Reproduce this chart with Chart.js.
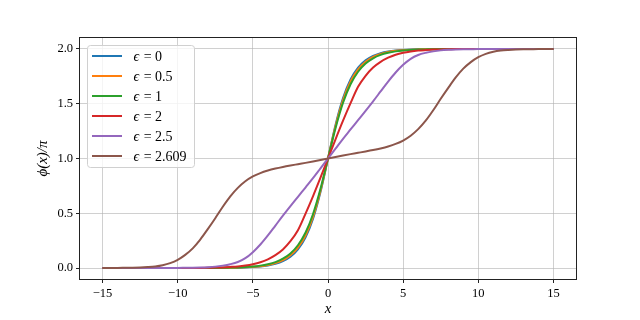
<!DOCTYPE html>
<html>
<head>
<meta charset="utf-8">
<title>Kink profiles</title>
<script src="https://cdn.jsdelivr.net/npm/chart.js@4/dist/chart.umd.min.js"></script>
<style>
  html, body { margin: 0; padding: 0; background: #fff; }
  #wrap { width: 640px; height: 320px; }
</style>
</head>
<body>
<div id="wrap"><canvas id="chart-kinks" width="640" height="320"></canvas></div>
<script>
/* ── Data ────────────────────────────────────────────────── */
const xValues = [
  -15, -14.5, -14, -13.5, -13, -12.5, -12, -11.5, -11, -10.5,
  -10, -9.5, -9, -8.5, -8, -7.5, -7, -6.5, -6, -5.5,
  -5, -4.5, -4, -3.5, -3, -2.5, -2, -1.5, -1, -0.5,
  0,
  0.5, 1, 1.5, 2, 2.5, 3, 3.5, 4, 4.5, 5,
  5.5, 6, 6.5, 7, 7.5, 8, 8.5, 9, 9.5, 10,
  10.5, 11, 11.5, 12, 12.5, 13, 13.5, 14, 14.5, 15
];

const epsLabels = ['ϵ = 0', 'ϵ = 0.5', 'ϵ = 1', 'ϵ = 2', 'ϵ = 2.5', 'ϵ = 2.609'];

const phiEps0 = [
  0, 0, 0, 0, 0, 0, 0, 0, 0, 0,
  0, 0, 0, 0, 0, 0.001, 0.001, 0.002, 0.003, 0.005,
  0.009, 0.014, 0.023, 0.038, 0.063, 0.104, 0.171, 0.279, 0.449, 0.694,
  1,
  1.306, 1.551, 1.721, 1.829, 1.896, 1.937, 1.962, 1.977, 1.986, 1.991,
  1.995, 1.997, 1.998, 1.999, 1.999, 2, 2, 2, 2, 2,
  2, 2, 2, 2, 2, 2, 2, 2, 2, 2
];

const phiEps05 = [
  0, 0, 0, 0, 0, 0, 0, 0, 0, 0,
  0, 0, 0, 0, 0.001, 0.001, 0.002, 0.002, 0.004, 0.007,
  0.011, 0.017, 0.028, 0.045, 0.072, 0.116, 0.186, 0.297, 0.467, 0.706,
  1,
  1.294, 1.533, 1.703, 1.814, 1.884, 1.928, 1.955, 1.972, 1.983, 1.989,
  1.993, 1.996, 1.998, 1.998, 1.999, 1.999, 2, 2, 2, 2,
  2, 2, 2, 2, 2, 2, 2, 2, 2, 2
];

const phiEps1 = [
  0, 0, 0, 0, 0, 0, 0, 0, 0, 0,
  0, 0, 0, 0.001, 0.001, 0.001, 0.002, 0.004, 0.006, 0.009,
  0.014, 0.022, 0.035, 0.054, 0.085, 0.133, 0.208, 0.322, 0.491, 0.723,
  1,
  1.277, 1.509, 1.678, 1.792, 1.867, 1.915, 1.946, 1.965, 1.978, 1.986,
  1.991, 1.994, 1.996, 1.998, 1.999, 1.999, 1.999, 2, 2, 2,
  2, 2, 2, 2, 2, 2, 2, 2, 2, 2
];

const phiEps2 = [
  0, 0, 0, 0, 0, 0, 0, 0, 0, 0,
  0, 0, 0.001, 0.001, 0.002, 0.004, 0.006, 0.010, 0.015, 0.023,
  0.035, 0.053, 0.080, 0.118, 0.170, 0.245, 0.345, 0.495, 0.655, 0.825,
  1,
  1.175, 1.345, 1.505, 1.655, 1.755, 1.830, 1.882, 1.920, 1.947, 1.965,
  1.977, 1.985, 1.990, 1.994, 1.996, 1.998, 1.999, 1.999, 2, 2,
  2, 2, 2, 2, 2, 2, 2, 2, 2, 2
];

const phiEps25 = [
  0, 0, 0, 0, 0, 0, 0, 0, 0, 0.001,
  0.001, 0.002, 0.003, 0.005, 0.008, 0.013, 0.022, 0.035, 0.055, 0.090,
  0.145, 0.215, 0.298, 0.388, 0.478, 0.565, 0.650, 0.735, 0.820, 0.910,
  1,
  1.090, 1.180, 1.265, 1.350, 1.435, 1.522, 1.612, 1.702, 1.785, 1.855,
  1.910, 1.945, 1.965, 1.978, 1.987, 1.992, 1.995, 1.997, 1.998, 1.999,
  1.999, 2, 2, 2, 2, 2, 2, 2, 2, 2
];

const phiEps2609 = [
  0, 0.001, 0.001, 0.002, 0.003, 0.005, 0.009, 0.015, 0.026, 0.045,
  0.075, 0.120, 0.180, 0.260, 0.355, 0.455, 0.560, 0.655, 0.732, 0.792,
  0.836, 0.867, 0.890, 0.908, 0.923, 0.936, 0.948, 0.960, 0.973, 0.987,
  1,
  1.013, 1.027, 1.040, 1.052, 1.064, 1.077, 1.092, 1.110, 1.133, 1.164,
  1.208, 1.268, 1.345, 1.440, 1.545, 1.645, 1.740, 1.820, 1.880, 1.925,
  1.955, 1.974, 1.985, 1.991, 1.995, 1.997, 1.998, 1.999, 1.999, 2
];

const xTicks = [-15, -10, -5, 0, 5, 10, 15];
const yTicks = [0, 0.5, 1, 1.5, 2];

/* ── Styling ─────────────────────────────────────────────── */
const seriesColors = ['#1f77b4', '#ff7f0e', '#2ca02c', '#d62728', '#9467bd', '#8c564b'];
const serif = "'Liberation Serif', 'DejaVu Serif', serif";
const allSeries = [phiEps0, phiEps05, phiEps1, phiEps2, phiEps25, phiEps2609];

function fmtTick(v, digits) {
  const s = Math.abs(v).toFixed(digits);
  return v < 0 ? '\u2212' + s : s;
}

/* ── Frame: matplotlib style box round the axes ──────────── */
const framePlugin = {
  id: 'frame',
  afterDraw(chart) {
    const { ctx, chartArea: a } = chart;
    ctx.save();
    ctx.strokeStyle = '#222';
    ctx.lineWidth = 1;
    ctx.strokeRect(Math.round(a.left) - 0.5, Math.round(a.top) - 0.5,
      Math.round(a.right - a.left) + 1, Math.round(a.bottom - a.top) + 1);
    ctx.restore();
  }
};

/* ── Legend inside the plot, upper left ──────────────────── */
const innerLegend = {
  id: 'innerLegend',
  afterDatasetsDraw(chart) {
    const { ctx, chartArea: a } = chart;
    const sets = chart.data.datasets;
    const bx = a.left + 7.5, by = a.top + 7.5, bw = 107, bh = 122, r = 3;
    ctx.save();
    ctx.beginPath();
    ctx.roundRect(bx, by, bw, bh, r);
    ctx.fillStyle = 'rgba(255,255,255,0.8)';
    ctx.fill();
    ctx.strokeStyle = '#d0d0d0';
    ctx.lineWidth = 1;
    ctx.stroke();

    ctx.textBaseline = 'middle';
    ctx.fillStyle = '#000';
    sets.forEach((ds, i) => {
      const y = by + 10.5 + i * 20;
      ctx.beginPath();
      ctx.moveTo(bx + 4.5, y);
      ctx.lineTo(bx + 34.5, y);
      ctx.strokeStyle = ds.borderColor;
      ctx.lineWidth = 2;
      ctx.stroke();
      // symbol in italic, the rest upright
      const [sym, ...rest] = ds.label.split(' ');
      ctx.font = 'italic 14px ' + serif;
      ctx.fillText(sym, bx + 46, y + 1);
      const w = ctx.measureText(sym).width;
      ctx.font = '14px ' + serif;
      ctx.fillText(' ' + rest.join(' '), bx + 46 + w + 1, y + 1);
    });
    ctx.restore();
  }
};

/* ── Chart ───────────────────────────────────────────────── */
const datasets = allSeries.map((vals, i) => ({
  label: epsLabels[i],
  data: xValues.map((x, k) => ({ x: x, y: vals[k] })),
  borderColor: seriesColors[i],
  borderWidth: 2,
  pointRadius: 0,
  fill: false,
  cubicInterpolationMode: 'monotone',
  order: allSeries.length - i
}));

new Chart(document.getElementById('chart-kinks'), {
  type: 'line',
  data: { datasets },
  options: {
    responsive: false,
    animation: false,
    devicePixelRatio: 1,
    layout: { padding: { top: 38, right: 64, left: 0, bottom: 0 } },
    plugins: {
      legend: { display: false },
      tooltip: { enabled: false }
    },
    scales: {
      x: {
        type: 'linear',
        min: -16.5,
        max: 16.5,
        afterBuildTicks: axis => { axis.ticks = xTicks.map(v => ({ value: v })); },
        afterFit: scale => { scale.height = 41; },
        grid: { color: 'rgba(176,176,176,0.6)', lineWidth: 1, tickLength: 4, tickColor: '#222', tickWidth: 1 },
        border: { display: false },
        ticks: {
          padding: 3,
          color: '#000',
          font: { family: serif, size: 12.5 },
          maxRotation: 0,
          callback: v => fmtTick(v, 0)
        },
        title: {
          display: true,
          text: 'x',
          color: '#000',
          font: { family: serif, size: 15, style: 'italic' },
          padding: { top: 0, bottom: 2 }
        }
      },
      y: {
        type: 'linear',
        min: -0.1,
        max: 2.1,
        afterBuildTicks: axis => { axis.ticks = yTicks.map(v => ({ value: v })); },
        afterFit: scale => { scale.width = 80; },
        grid: { color: 'rgba(176,176,176,0.6)', lineWidth: 1, tickLength: 4, tickColor: '#222', tickWidth: 1 },
        border: { display: false },
        ticks: {
          padding: 3,
          color: '#000',
          font: { family: serif, size: 12.5 },
          callback: v => fmtTick(v, 1)
        },
        title: {
          display: true,
          text: 'ϕ(x)/π',
          color: '#000',
          font: { family: serif, size: 15, style: 'italic' },
          padding: { top: 34, bottom: 0 }
        }
      }
    }
  },
  plugins: [innerLegend, framePlugin]
});
</script>
</body>
</html>
